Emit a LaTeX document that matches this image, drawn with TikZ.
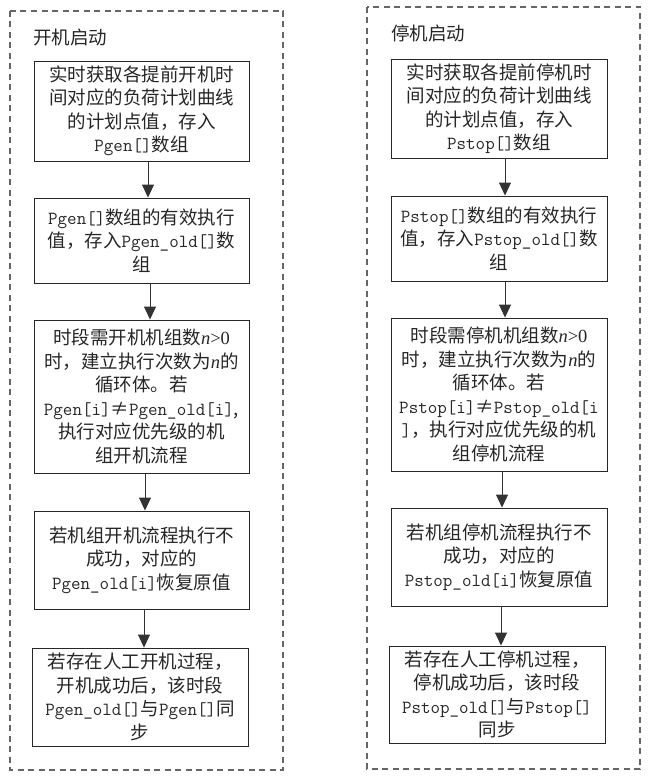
\documentclass[tikz,border=0pt]{standalone}
\usepackage{fontspec}
\setmainfont{Noto Sans CJK SC}
\newfontfamily\serif{Liberation Serif}
\usetikzlibrary{arrows.meta}
\newcommand{\tl}[1]{{\ttfamily #1}}
\newcommand{\nn}{{\serif\itshape n}}
\tikzset{
  frame/.style={draw=black!60, line width=1.1pt, dash pattern=on 6pt off 4.5pt},
  stepbox/.style={draw=black!85, line width=0.9pt, rectangle, align=center, inner sep=0pt,
    font=\fontsize{18.5}{23.5}\selectfont, text=black!85},
  title/.style={font=\fontsize{18.5}{23}\selectfont, text=black!85, inner sep=0pt, anchor=west},
  flow/.style={draw=black!80, line width=0.9pt, -{Triangle[width=12pt,length=13pt]}}
}
\begin{document}
\begin{tikzpicture}[x=1pt,y=-1pt]
\useasboundingbox (0,0) rectangle (650,781);
% frames
\draw[frame] (10,11) rectangle (283,770);
\draw[frame] (367,7) rectangle (640,769);
\node[title] (t1) at (33,37) {开机启动};
\node[title] (t2) at (391,33) {停机启动};
% left column
\node[stepbox, minimum width=215pt, minimum height=100pt] (b1) at (141.5,111)
  {实时获取各提前开机时\\间对应的负荷计划曲线\\的计划点值，存入\\\tl{Pgen[]}数组};
\node[stepbox, minimum width=215pt, minimum height=85pt] (b2) at (141.5,240.5)
  {\tl{Pgen[]}数组的有效执行\\值，存入\tl{Pgen\_old[]}数\\组};
\node[stepbox, minimum width=215pt, minimum height=153pt] (b3) at (141.5,396.5)
  {时段需开机机组数\nn{\serif>0}\\时，建立执行次数为\nn 的\\循环体。若\\\tl{Pgen[i]}≠\tl{Pgen\_old[i]},\\执行对应优先级的机\\组开机流程};
\node[stepbox, minimum width=215pt, minimum height=98pt] (b4) at (141.5,560)
  {若机组开机流程执行不\\成功，对应的\\\tl{Pgen\_old[i]}恢复原值};
\node[stepbox, minimum width=216pt, minimum height=98pt] (b5) at (140,697)
  {若存在人工开机过程，\\开机成功后，该时段\\\tl{Pgen\_old[]}与\tl{Pgen[]}同\\步};
% right column
\node[stepbox, minimum width=216pt, minimum height=99pt] (c1) at (499,108.5)
  {实时获取各提前停机时\\间对应的负荷计划曲线\\的计划点值，存入\\\tl{Pstop[]}数组};
\node[stepbox, minimum width=216pt, minimum height=85pt] (c2) at (499,238.5)
  {\tl{Pstop[]}数组的有效执行\\值，存入\tl{Pstop\_old[]}数\\组};
\node[stepbox, minimum width=216pt, minimum height=153pt] (c3) at (499,394.5)
  {时段需停机机组数\nn{\serif>0}\\时，建立执行次数为\nn 的\\循环体。若\\\tl{Pstop[i]}≠\tl{Pstop\_old[i}\\\tl{]}，执行对应优先级的机\\组停机流程};
\node[stepbox, minimum width=216pt, minimum height=98pt] (c4) at (499,557)
  {若机组停机流程执行不\\成功，对应的\\\tl{Pstop\_old[i]}恢复原值};
\node[stepbox, minimum width=216pt, minimum height=97pt] (c5) at (497,694.5)
  {若存在人工停机过程，\\停机成功后，该时段\\\tl{Pstop\_old[]}与\tl{Pstop[]}\\同步};
% arrows
\draw[flow] ([xshift=6.5pt]b1.south) -- ([xshift=6.5pt]b2.north);
\draw[flow] ([xshift=8.5pt]b2.south) -- ([xshift=8.5pt]b3.north);
\draw[flow] ([xshift=3.5pt]b3.south) -- ([xshift=3.5pt]b4.north);
\draw[flow] ([xshift=2.5pt]b4.south) -- ([xshift=4pt]b5.north);
\draw[flow] ([xshift=6pt]c1.south) -- ([xshift=6pt]c2.north);
\draw[flow] ([xshift=6pt]c2.south) -- ([xshift=6pt]c3.north);
\draw[flow] ([xshift=3pt]c3.south) -- ([xshift=3pt]c4.north);
\draw[flow] ([xshift=2pt]c4.south) -- ([xshift=4pt]c5.north);
\end{tikzpicture}
\end{document}
